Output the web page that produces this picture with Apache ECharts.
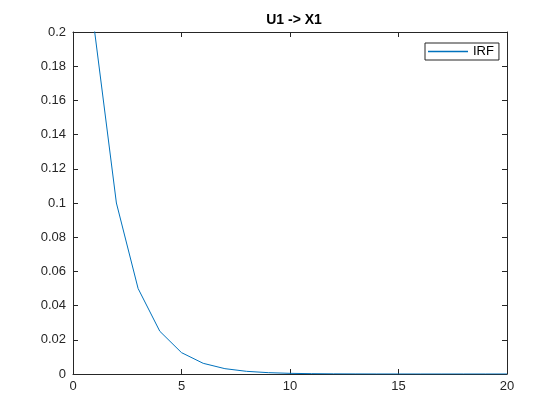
<!DOCTYPE html>
<html><head><meta charset="utf-8">
<script src="https://cdn.jsdelivr.net/npm/echarts@6/dist/echarts.min.js"></script>
<style>html,body{margin:0;padding:0;background:#fff}#c{width:560px;height:420px}</style>
</head><body><div id="c"></div>
<script>
var horizon = [0,1,2,3,4,5,6,7,8,9,10,11,12,13,14,15,16,17,18,19,20];
var irf = [0.4,0.2,0.1,0.05,0.025,0.0125,0.00625,0.003125,0.0015625,0.00078125,0.000390625,0.000195,0.0000977,0.0000488,0.0000244,0.0000122,0.0000061,0.0000031,0.0000015,0.0000008,0.0000004];
var xTicks = [0,5,10,15,20];
var yTicks = [0,0.02,0.04,0.06,0.08,0.1,0.12,0.14,0.16,0.18,0.2];
var seriesName = 'IRF';
var titleText = 'U1 -> X1';

var font = 'Liberation Sans, Arial, sans-serif';
var axCol = '#262626';
var chart = echarts.init(document.getElementById('c'));
function xAx(pos, labels){
  return {type:'value', position:pos, min:0, max:20, interval:5,
    axisLine:{show:true, onZero:false, lineStyle:{color:axCol, width:1}},
    axisTick:{show:true, inside:true, length:5, lineStyle:{color:axCol}},
    axisLabel:{show:labels, color:axCol, fontFamily:font, fontSize:13, margin:6},
    splitLine:{show:false}};
}
function yAx(pos, labels){
  return {type:'value', position:pos, min:0, max:0.2, interval:0.02,
    axisLine:{show:true, onZero:false, lineStyle:{color:axCol, width:1}},
    axisTick:{show:true, inside:true, length:5, lineStyle:{color:axCol}},
    axisLabel:{show:labels, color:axCol, fontFamily:font, fontSize:13, margin:7,
      formatter:function(v){return String(Math.round(v*100)/100);}},
    splitLine:{show:false}};
}
chart.setOption({
  animation:false,
  backgroundColor:'#fff',
  title:{text:titleText, left:289, top:8, textAlign:'center',
    textStyle:{fontFamily:font, fontSize:14, fontWeight:'bold', color:'#000'}},
  grid:{left:73, top:32, width:434, height:342},
  legend:{data:[{name:seriesName, icon:'rect', itemStyle:{color:'#0072BD'}}], left:425, top:43, orient:'vertical',
    borderColor:axCol, borderWidth:1, backgroundColor:'#fff', padding:[2,5,2,3],
    itemWidth:40, itemHeight:1.4, itemGap:4,
    textStyle:{fontFamily:font, fontSize:13, color:'#000'}},
  xAxis:[xAx('bottom', true), xAx('top', false)],
  yAxis:[yAx('left', true), yAx('right', false)],
  series:[{name:seriesName, type:'line', xAxisIndex:0, yAxisIndex:0,
    data:horizon.map(function(h,i){return [h, irf[i]];}),
    symbol:'none', clip:true,
    lineStyle:{color:'#0072BD', width:1}, itemStyle:{color:'#0072BD'}}]
});
</script></body></html>
